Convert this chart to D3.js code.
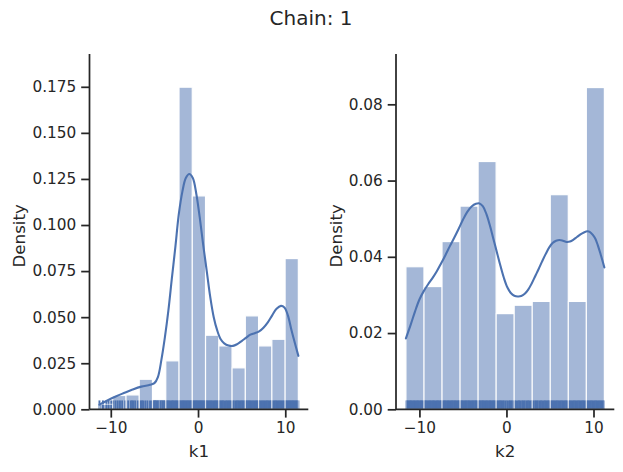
<!DOCTYPE html>
<html>
<head>
<meta charset="utf-8">
<script src="https://cdn.jsdelivr.net/npm/d3@7/dist/d3.min.js"></script>
<style>
  html, body { margin: 0; padding: 0; background: #ffffff; }
  text { font-family: "DejaVu Sans", sans-serif; fill: #262626; }
</style>
</head>
<body>
<svg id="chart" width="623" height="472"></svg>
<script>
// ---------------- DATA ----------------
const title = "Chain: 1";

// k1 histogram (density per bin), 15 equal bins over [-11.3, 11.5]
const k1BinRange = [-11.3, 11.5];
const k1Density = [0.0027, 0.0075, 0.0078, 0.0163, 0.0054, 0.0263, 0.1748, 0.1158, 0.0402, 0.0344, 0.0225, 0.0507, 0.0344, 0.038, 0.0818];
const k1KdeX = [-11.3, -10.5, -9.5, -8.5, -7.5, -6.5, -5.5, -5.0, -4.6, -4.2, -3.8, -3.4, -3.0, -2.6, -2.2, -1.8, -1.4, -1.0, -0.6, -0.2, 0.2, 0.6, 1.0, 1.4, 1.8, 2.2, 2.6, 3.0, 3.5, 4.0, 4.5, 5.0, 5.5, 6.0, 6.5, 7.0, 7.5, 8.0, 8.5, 9.0, 9.5, 9.9, 10.3, 10.7, 11.1, 11.5];
const k1KdeY = [0.0025, 0.0045, 0.0068, 0.0088, 0.0107, 0.0123, 0.0133, 0.0142, 0.0175, 0.0268, 0.039, 0.0535, 0.071, 0.088, 0.106, 0.118, 0.1255, 0.1277, 0.1255, 0.117, 0.104, 0.089, 0.075, 0.061, 0.05, 0.0428, 0.038, 0.0358, 0.0346, 0.0344, 0.0354, 0.037, 0.0388, 0.0405, 0.0413, 0.0423, 0.0443, 0.0472, 0.051, 0.0545, 0.0561, 0.0553, 0.051, 0.0432, 0.036, 0.029];
const k1Rug = [-11.3,-10.9,-10.5,-10.25,-9.95,-9.7,-9.45,-9.2,-8.95,-8.7,-8.35,-8.0,-7.7,-7.55,-7.4,-7.2,-6.9,-6.6,-6.45,-6.3,-6.05,-5.8,-5.5,-5.3,-5.1,-4.95,-4.8,-4.6,-4.3,-4.1,-3.9,
  -3.7,-3.55,-3.42,-3.3,-3.15,-3.0,-2.88,-2.75,-2.6,-2.48,-2.35,-2.2,-2.08,-1.95,-1.82,-1.7,-1.58,-1.45,-1.32,-1.2,-1.08,-0.95,-0.82,-0.7,-0.58,-0.45,-0.32,-0.2,-0.08,0.05,0.18,0.3,0.42,0.55,0.68,0.8,0.93,1.05,1.2,1.33,1.47,1.6,1.75,1.9,2.02,2.15,2.3,2.45,2.58,2.72,2.85,3.0,3.2,3.35,3.5,3.62,3.78,3.95,4.1,4.3,4.45,4.6,4.75,4.9,5.05,5.2,5.33,5.47,5.6,5.75,5.88,6.0,6.15,6.3,6.45,6.6,6.72,6.85,7.0,7.15,7.3,7.45,7.6,7.75,7.9,8.05,8.2,8.35,8.5,8.65,8.8,8.95,9.1,9.25,9.4,9.55,9.7,9.85,10.0,10.12,10.25,10.38,10.5,10.62,10.75,10.88,11.0,11.12,11.25,11.38,11.5];

// k2 histogram (density per bin), 11 equal bins over [-11.55, 11.25]
const k2BinRange = [-11.55, 11.25];
const k2Density = [0.0374, 0.0322, 0.044, 0.0533, 0.065, 0.0251, 0.0273, 0.0283, 0.0563, 0.0283, 0.0844];
const k2KdeX = [-11.55, -11.0, -10.5, -10.0, -9.5, -9.0, -8.5, -8.0, -7.5, -7.0, -6.5, -6.0, -5.5, -5.0, -4.5, -4.0, -3.5, -3.1, -2.7, -2.3, -1.9, -1.5, -1.1, -0.7, -0.3, 0.1, 0.5, 0.9, 1.3, 1.7, 2.1, 2.5, 2.9, 3.3, 3.7, 4.1, 4.5, 4.9, 5.3, 5.7, 6.1, 6.5, 6.9, 7.3, 7.7, 8.1, 8.5, 8.9, 9.3, 9.6, 9.9, 10.2, 10.5, 10.8, 11.25];
const k2KdeY = [0.0186, 0.0222, 0.0257, 0.0288, 0.031, 0.0328, 0.0344, 0.0362, 0.0383, 0.0405, 0.0428, 0.045, 0.0473, 0.0497, 0.0518, 0.0532, 0.0539, 0.054, 0.0532, 0.0512, 0.0482, 0.0447, 0.0412, 0.0377, 0.0345, 0.032, 0.0305, 0.0298, 0.0296, 0.0297, 0.0303, 0.0314, 0.033, 0.0349, 0.0368, 0.0388, 0.0407, 0.0424, 0.0436, 0.0442, 0.0444, 0.0442, 0.0439, 0.044, 0.0445, 0.0452, 0.0459, 0.0464, 0.0467, 0.0465, 0.0458, 0.0448, 0.043, 0.0408, 0.0372];
const k2Rug = [-11.5,-11.38,-11.25,-11.1,-10.98,-10.85,-10.7,-10.58,-10.45,-10.3,-10.18,-10.05,-9.9,-9.78,-9.65,-9.5,-9.38,-9.25,-9.1,-8.95,-8.82,-8.7,-8.55,-8.42,-8.3,-8.15,-8.0,-7.88,-7.75,-7.6,-7.48,-7.35,-7.2,-7.08,-6.95,-6.8,-6.68,-6.55,-6.4,-6.28,-6.15,-6.0,-5.88,-5.75,-5.6,-5.48,-5.35,-5.2,-5.08,-4.95,-4.8,-4.68,-4.55,-4.4,-4.28,-4.15,-4.0,-3.88,-3.75,-3.6,-3.48,-3.35,-3.2,-3.08,-2.95,-2.8,-2.68,-2.55,-2.4,-2.28,-2.15,-2.0,-1.88,-1.75,-1.6,-1.48,-1.35,-1.2,-1.05,-0.9,-0.75,-0.6,-0.45,-0.3,-0.1,0.1,0.3,0.45,0.6,0.8,0.95,1.1,1.3,1.45,1.6,1.8,1.95,2.1,2.3,2.45,2.6,2.8,2.95,3.1,3.3,3.45,3.6,3.8,3.95,4.1,4.3,4.45,4.6,4.75,4.9,5.05,5.2,5.35,5.5,5.65,5.8,5.95,6.1,6.25,6.4,6.55,6.7,6.85,7.0,7.15,7.3,7.45,7.6,7.75,7.9,8.05,8.2,8.35,8.5,8.65,8.8,8.95,9.1,9.25,9.4,9.55,9.7,9.85,10.0,10.15,10.3,10.45,10.6,10.75,10.9,11.05,11.2];

const xTicks = [-10, 0, 10];
const k1YTicks = [0, 0.025, 0.05, 0.075, 0.1, 0.125, 0.15, 0.175];
const k2YTicks = [0, 0.02, 0.04, 0.06, 0.08];
const k1YMax = 0.1928;
const k2YMax = 0.0932;

// ---------------- DRAWING ----------------
const svg = d3.select("#chart");
svg.append("rect").attr("width", 623).attr("height", 472).attr("fill", "#ffffff");

const BLUE = "#4c72b0";
const INK = "#262626";
const TICK_LEN = 8.3, TICK_PAD = 4.9, SPINE_W = 1.74;

svg.append("text").attr("x", 311).attr("y", 25).attr("text-anchor", "middle")
  .style("font-size", "20px").text(title);

function panel(opts) {
  const { left, right, top, bottom, binRange, dens, kx, ky, rug, yMax, yTicks, yFmt, xLabel, yLabelX } = opts;
  const n = dens.length;
  const w = (binRange[1] - binRange[0]) / n;
  const pad = (binRange[1] - binRange[0]) * 0.05;
  const x = d3.scaleLinear().domain([binRange[0] - pad, binRange[1] + pad]).range([left, right]);
  const y = d3.scaleLinear().domain([0, yMax]).range([bottom, top]);
  const g = svg.append("g");

  // rug
  const rugH = (bottom - top) * 0.025;
  g.append("g").selectAll("line").data(rug).join("line")
    .attr("x1", d => x(d)).attr("x2", d => x(d))
    .attr("y1", bottom).attr("y2", bottom - rugH)
    .attr("stroke", BLUE).attr("stroke-width", 1.9);

  // bars
  const bins = dens.map((d, i) => ({ x0: binRange[0] + i * w, x1: binRange[0] + (i + 1) * w, d }));
  g.append("g").selectAll("rect").data(bins).join("rect")
    .attr("x", b => x(b.x0)).attr("width", b => x(b.x1) - x(b.x0))
    .attr("y", b => y(b.d)).attr("height", b => y(0) - y(b.d))
    .attr("fill", BLUE).attr("stroke", "#ffffff").attr("stroke-width", 1.2)
    .attr("opacity", 0.5);

  // kde
  const pts = kx.map((v, i) => [v, ky[i]]);
  g.append("path").datum(pts)
    .attr("d", d3.line().x(p => x(p[0])).y(p => y(p[1])).curve(d3.curveCatmullRom.alpha(0.5)))
    .attr("fill", "none").attr("stroke", BLUE).attr("stroke-width", 2.1)
    .attr("stroke-linejoin", "round").attr("stroke-linecap", "round");

  // x axis
  const xa = g.append("g").attr("transform", `translate(0,${bottom})`)
    .call(d3.axisBottom(x).tickValues(xTicks).tickSize(TICK_LEN).tickPadding(TICK_PAD)
      .tickFormat(d => d3.format("d")(d).replace("-", "\u2212")));
  xa.select(".domain").attr("d", `M${left},0H${right}`).attr("stroke", INK).attr("stroke-width", SPINE_W);
  xa.selectAll(".tick line").attr("stroke", INK).attr("stroke-width", SPINE_W);
  xa.selectAll(".tick text").style("font-size", "15.3px").attr("fill", INK)
    .attr("font-family", "DejaVu Sans");

  // y axis
  const ya = g.append("g").attr("transform", `translate(${left},0)`)
    .call(d3.axisLeft(y).tickValues(yTicks).tickSize(TICK_LEN).tickPadding(TICK_PAD).tickFormat(yFmt));
  ya.select(".domain").attr("d", `M0,${top}V${bottom}`).attr("stroke", INK).attr("stroke-width", SPINE_W);
  ya.selectAll(".tick line").attr("stroke", INK).attr("stroke-width", SPINE_W);
  ya.selectAll(".tick text").style("font-size", "15.3px").attr("fill", INK)
    .attr("font-family", "DejaVu Sans");

  // labels
  g.append("text").attr("x", (left + right) / 2).attr("y", 457).attr("text-anchor", "middle")
    .style("font-size", "16.7px").text(xLabel);
  g.append("text").attr("transform", `translate(${yLabelX},235.8) rotate(-90)`)
    .attr("text-anchor", "middle").attr("dy", "0.36em")
    .style("font-size", "16.7px").text("Density");
}

panel({ left: 89.5, right: 308.3, top: 54, bottom: 409.3, binRange: k1BinRange, dens: k1Density,
  kx: k1KdeX, ky: k1KdeY, rug: k1Rug, yMax: k1YMax, yTicks: k1YTicks, yFmt: d3.format(".3f"),
  xLabel: "k1", yLabelX: 19.2 });
panel({ left: 396, right: 614.3, top: 54, bottom: 409.3, binRange: k2BinRange, dens: k2Density,
  kx: k2KdeX, ky: k2KdeY, rug: k2Rug, yMax: k2YMax, yTicks: k2YTicks, yFmt: d3.format(".2f"),
  xLabel: "k2", yLabelX: 335.8 });
</script>
</body>
</html>
